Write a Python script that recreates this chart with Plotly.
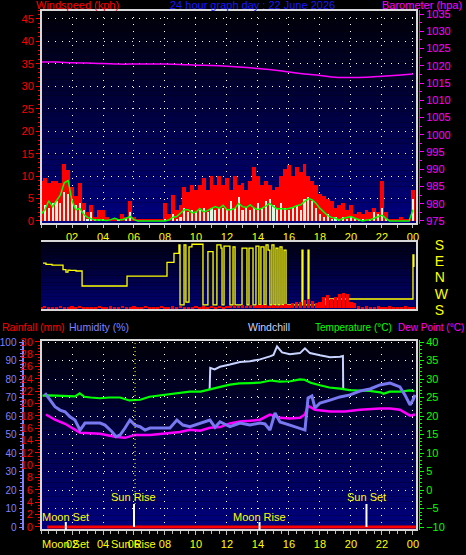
import plotly.graph_objects as go

W, H = 466, 555

# ---------------- data ----------------
quarter_hours = [i / 4 for i in range(97)]

wind_gust = [9, 9.5, 8.5, 9, 9, 8.5, 12.8, 11.4, 7.6, 5.5, 8.4, 4, 2, 3.5, 1, 2.5, 2.5, 1, 0.5, 0.3,
             0.3, 1.5, 1, 4.5, 1, 0.3, 0.3, 0.3, 0.3, 0.3, 0.3, 0.3, 3.9, 1.5, 5.8, 2.5, 3.5, 7.6, 6.5, 8,
             7, 8, 9.5, 7, 10, 8, 10, 8, 9.5, 7, 10, 8, 8.5, 7, 9, 12, 10, 8, 9, 8,
             7, 7.5, 10, 11.5, 12.5, 10, 12, 11, 12.8, 10, 9, 8, 6, 5.5, 5, 4.5, 3, 3.5, 4, 2.5,
             3.5, 1.5, 2, 1.5, 2.5, 2, 3, 2, 9, 2, 0.3, 0.3, 0.3, 1, 0.3, 0.3, 7]

wind_speed = [2.5, 3.5, 3, 4, 4.5, 4, 6.5, 6, 5, 3.5, 4, 2.5, 0.5, 2, 0.3, 0.5, 0.5, 0, 0, 0,
              0.3, 0, 0.5, 2, 0, 0, 0, 0, 0, 0, 0, 0, 0.5, 0, 1.5, 0.5, 1, 3, 2, 2.5,
              2, 2.5, 3, 2, 3, 2.5, 3, 3, 2.5, 4.5, 3, 5.3, 2.5, 3, 2.5, 3, 4, 3, 4.5, 5,
              3.5, 3, 4, 3, 2.5, 3, 3.5, 2.5, 5, 5.3, 4.5, 3, 1.5, 1, 1.5, 0.5, 1, 0.3, 1, 0.5,
              1, 0.3, 0.5, 0.3, 0, 0.3, 2, 1.5, 3, 0.5, 0, 0, 0, 0, 0, 0, 5]

wind_avg = [1.5, 2.5, 4.5, 3.2, 4.5, 5.8, 8.5, 9, 4.5, 2.5, 2.8, 1.5, 0.8, 0.5, 0.2, 0.3, 0.2, 0.1, 0.3, 0.6,
            0.3, 0.3, 0.6, 1.0, 0.3, 0, 0, 0, 0, 0, 0, 0, 0, 0.2, 0.8, 1.0, 1.8, 2.5, 2.5, 1.8,
            2.0, 2.8, 2.0, 2.3, 2.8, 3.2, 2.8, 3.5, 2.5, 2.5, 2.8, 3.9, 3.2, 3.0, 3.6, 2.9, 2.5, 2.8, 3.3, 3.9,
            3.2, 2.7, 2.8, 2.6, 2.8, 3.0, 3.4, 3.6, 4.3, 5.0, 4.7, 3.9, 2.8, 2.0, 1.2, 0.8, 0.6, 0.2, 0.6, 0.8,
            1.0, 0.6, 0.3, 0, 0.2, 0.3, 0.6, 1.0, 1.3, 0.6, 0, 0, 0, 0, 0, 0, 2.5]

baro_hours = list(range(25))
barometer = [1021.1, 1021.1, 1020.9, 1020.8, 1020.7, 1020.5, 1020.5, 1020.5, 1020.5, 1020.4,
             1020.2, 1020.1, 1019.9, 1019.6, 1019.2, 1018.8, 1018.2, 1017.6, 1017.2, 1016.7,
             1016.6, 1016.7, 1017.0, 1017.3, 1017.6]

# wind direction, unwrapped degrees: 180 = S (bottom), 270 W, 360 N, 450 E, 540 S (top)
dir_hours = [0.13, 0.32, 0.71, 1.42, 1.61, 1.74, 1.87, 2.26, 2.65, 5.55, 8.13, 8.58, 8.90, 8.97, 9.23,
             9.35, 9.55, 9.74, 10.45, 10.77, 11.10, 11.35, 11.61, 11.68, 11.81, 12.19, 12.39, 12.52,
             12.97, 13.29, 13.42, 13.68, 13.87, 14.06, 14.19, 14.39, 14.52, 14.65, 14.77, 14.90, 15.03,
             15.16, 15.29, 15.42, 15.55, 15.68, 15.81, 16.84, 16.90, 17.23, 17.29, 18.32, 24.0, 24.06]
dir_deg = [439, 433, 428, 404, 390, 401, 399, 396, 313, 367, 444, 494, 540, 208, 540,
           224, 529, 544, 208, 503, 208, 540, 523, 208, 534, 208, 529, 208,
           523, 208, 523, 208, 534, 208, 529, 208, 540, 512, 208, 540, 208,
           523, 208, 529, 208, 512, 208, 512, 208, 512, 208, 241, 485, 418]

dir_red = [0.4, 0.7, 0.4, 0.5, 0.4, 0.8, 0.4, 0.4, 0.6, 0.4, 0.7, 0.4, 0.4, 0.5, 0.4, 0.7, 0.4, 0.4, 0.6, 0.4,
           0.4, 0.7, 0.4, 0.4, 0.6, 0.4, 0.4, 0.7, 0.4, 0.5, 0.4, 0.7, 0.4, 0.4, 0.6, 0.4, 0.7, 0.4, 0.5, 0.4,
           0.7, 0.4, 0.6, 0.4, 0.7, 0.5, 0.8, 0.5, 0.7, 0.8, 1.0, 0.7, 0.9, 0.8, 1.0, 0.8, 1.0, 0.9, 1.1, 0.8,
           1.0, 0.8, 1.0, 1.2, 1.0, 1.5, 2.0, 1.8, 2.5, 3.0, 2.2, 1.5, 1.8, 3.5, 4.0, 3.0, 3.5, 4.5, 4.8, 4.5,
           2.0, 1.5, 0.6, 0.5, 0.6, 0.4, 0.5, 0.6, 0.4, 0.5, 0.6, 0.4, 0.5, 0.4, 0.6, 0.4, 0.5]

temp_hours = [0.1, 0.5, 1.0, 1.5, 2.2, 2.5, 2.8, 3.2, 3.8, 4.4, 5.1, 5.7, 6.4, 7.0, 7.5, 8.0, 8.5, 9.0,
              9.6, 10.3, 10.9, 11.5, 12.2, 12.8, 13.5, 14.1, 14.8, 15.4, 16.1, 16.7, 17.0, 17.4, 18.0,
              18.6, 19.3, 19.9, 20.6, 21.2, 21.9, 22.1, 22.5, 23.2, 23.8, 24.1]
temperature = [25.5, 25.6, 25.5, 25.4, 25.3, 26.1, 25.2, 25.0, 24.8, 25.0, 25.0, 24.2, 24.4, 25.2, 25.5,
               25.8, 26.0, 26.3, 26.6, 26.6, 27.1, 27.8, 28.5, 28.8, 28.9, 29.0, 29.6, 29.3, 29.4, 29.9,
               29.8, 29.0, 28.3, 27.7, 27.4, 27.0, 26.9, 26.8, 26.4, 26.0, 26.6, 26.6, 26.9, 26.7]

chill_hours = [10.88, 10.92, 11.2, 11.55, 12.19, 12.84, 13.48, 14.13, 14.77, 15.0, 15.23, 15.55, 16.06,
               16.71, 17.03, 17.35, 18.0, 18.65, 19.29, 19.48, 19.5]
windchill = [27.1, 33.0, 32.6, 33.3, 33.9, 34.6, 34.8, 35.3, 36.1, 36.5, 38.8, 37.2, 36.7,
             37.0, 38.3, 37.0, 36.4, 35.9, 36.0, 36.2, 27.3]

hum_hours = [0.26, 0.58, 0.9, 1.23, 1.55, 1.87, 2.19, 2.52, 2.84, 3.35, 3.81, 4.13, 4.58, 4.84, 5.1,
             5.42, 5.74, 6.06, 6.39, 6.71, 7.03, 7.68, 8.32, 8.77, 9.16, 9.61, 10.26, 10.9, 11.23, 11.55,
             12.19, 12.84, 13.48, 14.13, 14.45, 14.77, 15.1, 15.42, 16.06, 16.71, 17.03, 17.23, 17.48,
             17.68, 18.0, 18.65, 19.29, 19.94, 20.58, 21.23, 21.87, 22.52, 23.16, 23.48, 23.81, 24.0, 24.13]
humidity = [72.4, 68.6, 65, 63.2, 62.3, 59.6, 57.8, 52.4, 56.2, 56.2, 56.2, 55.1, 51.5, 48.8, 49.7,
            53.5, 57.8, 55.1, 54.2, 52.4, 53.5, 53.5, 53.5, 57.8, 55.1, 54.2, 56.2, 57.8, 53.9, 56.9,
            54.2, 56.2, 55.1, 56.2, 55.7, 52.4, 61.6, 56.8, 55.1, 53.5, 52.4, 69.7, 70.8,
            64.3, 67, 68.6, 70.3, 71.4, 73.5, 74.6, 76.8, 77.8, 75.7, 71.4, 66, 68.6, 71.4]

dew_hours = [0.32, 0.9, 1.55, 2.52, 3.81, 4.77, 5.42, 6.06, 7.03, 8.0, 8.97, 9.61, 10.26, 10.9, 11.55,
             12.19, 12.84, 13.48, 14.13, 14.77, 15.42, 16.06, 16.71, 17.03, 17.23, 17.68, 18.65, 19.61,
             20.58, 21.87, 22.52, 23.16, 23.81, 24.13]
dewpoint = [20.4, 19.0, 17.9, 15.5, 15.2, 14.4, 14.1, 14.9, 14.9, 15.2, 15.7, 16.3, 16.0, 16.8, 17.0,
            18.0, 18.5, 18.7, 19.0, 20.4, 19.5, 19.3, 19.5, 20.4, 22.8, 21.7, 21.2, 21.2,
            21.7, 22.0, 22.0, 21.7, 20.1, 20.4]

rain_hours = [0.4, 6, 12, 18, 24.2]
rainfall = [0, 0, 0, 0, 0]

hour_ticks = [2, 4, 6, 8, 10, 12, 14, 16, 18, 20, 22, 24]
hour_labels = ['02', '04', '06', '08', '10', '12', '14', '16', '18', '20', '22', '00']
compass_vals = [180, 270, 360, 450, 540]
compass_labels = ['S', 'W', 'N', 'E', 'S']

event_hours = [1.6, 6.0, 14.1, 21.0]
event_names = ['Moon Set', 'Sun Rise', 'Moon Rise', 'Sun Set']

# ---------------- layout helpers ----------------
FONT = "Liberation Sans"
XR = [0, 24.26]
XD = [41 / W, 417 / W]


def py(p):
    return 1 - p / H


def dom(top, bottom):
    return [py(bottom), py(top)]


DOT = "1px,6px"

fig = go.Figure()

# wind panel
fig.add_trace(go.Bar(x=quarter_hours, y=wind_gust, width=0.25, marker=dict(color="#ff0000", line=dict(width=0)),
                     xaxis="x", yaxis="y"))
fig.add_trace(go.Bar(x=quarter_hours, y=wind_speed, width=0.14, marker=dict(color="#e2f4e2", line=dict(width=0)),
                     xaxis="x", yaxis="y"))
fig.add_trace(go.Scatter(x=quarter_hours, y=wind_avg, mode="lines", line=dict(color="#00ff00", width=1.5),
                         xaxis="x", yaxis="y"))
fig.add_trace(go.Scatter(x=baro_hours, y=barometer, mode="lines", line=dict(color="#ff00ff", width=1.5, shape="spline"),
                         xaxis="x", yaxis="y2"))

# direction panel
fig.add_trace(go.Bar(x=quarter_hours, y=dir_red, width=0.2, marker=dict(color="#ff0000", line=dict(width=0)),
                     xaxis="x2", yaxis="y4"))
fig.add_trace(go.Scatter(x=dir_hours, y=dir_deg, mode="lines", line=dict(color="#ffff00", width=1.3, shape="hv"),
                         xaxis="x2", yaxis="y3"))

# temperature panel
fig.add_trace(go.Scatter(x=hum_hours, y=humidity, mode="lines", line=dict(color="#7878f0", width=3),
                         xaxis="x3", yaxis="y6"))
fig.add_trace(go.Scatter(x=chill_hours, y=windchill, mode="lines", line=dict(color="#c8d4ff", width=2),
                         xaxis="x3", yaxis="y5"))
fig.add_trace(go.Scatter(x=temp_hours, y=temperature, mode="lines", line=dict(color="#00ff00", width=2.2),
                         xaxis="x3", yaxis="y5"))
fig.add_trace(go.Scatter(x=dew_hours, y=dewpoint, mode="lines", line=dict(color="#ff00ff", width=2.5),
                         xaxis="x3", yaxis="y5"))
fig.add_trace(go.Scatter(x=rain_hours, y=rainfall, mode="lines", line=dict(color="#ff0000", width=3),
                         xaxis="x3", yaxis="y7"))

tickfont_y = dict(family=FONT, size=11, color="#ffff00")
xcommon = dict(domain=XD, range=XR, zeroline=False, showline=False, fixedrange=True, automargin=False)

shapes = []


def gradient(xref, yref, n=40, c_top=8, c_bot=128):
    for k in range(n):
        f = (k + 0.5) / n
        c = int(round(c_bot + (c_top - c_bot) * f))
        shapes.append(dict(type="rect", xref=xref + " domain", yref=yref + " domain", x0=0, x1=1,
                           y0=k / n, y1=(k + 1) / n, fillcolor=f"rgb(0,0,{c})", line=dict(width=0),
                           layer="below"))


gradient("x", "y", c_top=6, c_bot=128)
gradient("x2", "y3", n=20, c_top=16, c_bot=118)
gradient("x3", "y5", c_top=6, c_bot=128)

frame = dict(color="#d8d8d8", width=2)
for xr, yr in [("x", "y"), ("x3", "y5")]:
    shapes.append(dict(type="rect", xref=xr + " domain", yref=yr + " domain", x0=0, x1=1, y0=0, y1=1,
                       line=frame, layer="above"))
# direction panel frame (top, right, bottom)
shapes.append(dict(type="path", xref="x2 domain", yref="y3 domain", path="M 0 1 L 1 1 L 1 0 L 0 0",
                   line=frame, layer="above"))

# sun / moon markers
for h, name in zip(event_hours, event_names):
    if "Moon" in name:
        shapes.append(dict(type="line", xref="x3", yref="paper", x0=h, x1=h, y0=py(530), y1=py(522),
                           line=dict(color="white", width=2)))
    else:
        shapes.append(dict(type="line", xref="x3", yref="paper", x0=h, x1=h, y0=py(527), y1=py(504),
                           line=dict(color="white", width=2)))
shapes.append(dict(type="line", xref="x3", yref="paper", x0=event_hours[1] + 0.07, x1=event_hours[1] + 0.07,
                   y0=py(504), y1=py(341), line=dict(color="#ffff00", width=1, dash="1px,3px")))

annotations = []


def txt(s, x, y, color, size=11, xref="paper", xanchor="center"):
    annotations.append(dict(text=s, x=x, y=py(y), xref=xref, yref="paper", showarrow=False,
                            xanchor=xanchor, yanchor="middle", font=dict(family=FONT, size=size, color=color)))


txt("Windspeed (kph)", 34 / W, 5, "#ff0000", 11, xanchor="left")
txt("24 hour graph day : 22 June 2026", 252 / W, 5, "#1818ff", 11)
txt("Barometer (hpa)", 464 / W, 5, "#ff00ff", 11, xanchor="right")
txt("Rainfall (mm)", 0, 327, "#ff0000", 10.5, xanchor="left")
txt("Humidity (%)", 67 / W, 327, "#8080ff", 10.5, xanchor="left")
txt("Windchill", 246 / W, 327, "#c8d4ff", 10.5, xanchor="left")
txt("Temperature (°C)", 313 / W, 327, "#00ff00", 10, xanchor="left")
txt("Dew Point (°C)", 466 / W, 327, "#ff00ff", 10, xanchor="right")
for h, name in zip(event_hours, event_names):
    yy = 517 if "Moon" in name else 497
    txt(name, h, yy, "#ffff00", 11, xref="x3")
for h, name in zip(event_hours[:2], event_names[:2]):
    txt(name, h, 544, "#ffff00", 11, xref="x3")

fig.update_layout(
    template="none",
    width=W, height=H, margin=dict(l=0, r=0, t=0, b=0, autoexpand=False),
    paper_bgcolor="black", plot_bgcolor="black",
    showlegend=False, barmode="overlay", bargap=0,
    shapes=shapes, annotations=annotations,
    xaxis=dict(**xcommon, anchor="y", tickmode="array", tickvals=hour_ticks, ticktext=hour_labels,
               tickfont=tickfont_y, ticks="outside", ticklen=3, tickcolor="#c0c0c0",
               minor=dict(ticks="outside", ticklen=3, dtick=1, tick0=0, tickcolor="#c0c0c0"),
               showgrid=True, gridcolor="white", griddash=DOT, gridwidth=1),
    yaxis=dict(domain=dom(10, 224), range=[-0.67, 47.0], anchor="x", dtick=5, tick0=0, automargin=False,
               tickfont=dict(family=FONT, size=11, color="#ff0000"), ticks="outside", ticklen=4,
               tickcolor="#ff0000", minor=dict(ticks="outside", ticklen=2, dtick=1, tickcolor="#ff0000"),
               showgrid=True, gridcolor="white", griddash=DOT, zeroline=False, fixedrange=True),
    yaxis2=dict(overlaying="y", side="right", anchor="free", position=419 / W, range=[974.1, 1036.2],
                dtick=5, tick0=975, showline=True, linecolor="#ff00ff", linewidth=1, automargin=False,
                tickfont=dict(family=FONT, size=11, color="#ff00ff"), ticks="outside", ticklen=4,
                tickcolor="#ff00ff", minor=dict(ticks="outside", ticklen=2, dtick=2.5, tickcolor="#ff00ff"),
                showgrid=False, zeroline=False, fixedrange=True),
    xaxis2=dict(**xcommon, anchor="y3", showticklabels=False, ticks="", showgrid=False),
    yaxis3=dict(domain=dom(241, 310), range=[180, 562], anchor="x2", side="right", tickmode="array",
                tickvals=compass_vals, ticktext=compass_labels, automargin=False,
                tickfont=dict(family=FONT, size=14, color="#ffff00"), ticks="outside", ticklen=14,
                tickcolor="rgba(0,0,0,0)", showgrid=False, zeroline=False, fixedrange=True),
    yaxis4=dict(overlaying="y3", range=[-0.5, 20.5], visible=False, fixedrange=True, automargin=False),
    xaxis3=dict(**xcommon, anchor="y5", tickmode="array", tickvals=hour_ticks, ticktext=hour_labels,
                tickfont=tickfont_y, ticks="outside", ticklen=4, tickcolor="#c0c0c0",
                minor=dict(ticks="outside", ticklen=3, dtick=0.5, tick0=0, tickcolor="#c0c0c0"),
                showgrid=True, gridcolor="white", griddash=DOT, gridwidth=1),
    yaxis5=dict(domain=dom(340, 530), range=[-10.8, 40.54], side="right", anchor="free", position=419 / W,
                dtick=5, tick0=0, showline=True, linecolor="#00ff00", linewidth=1, automargin=False,
                tickfont=dict(family=FONT, size=11, color="#00ff00"), ticks="outside", ticklen=4,
                tickcolor="#00ff00", minor=dict(ticks="outside", ticklen=2, dtick=1, tickcolor="#00ff00"),
                showgrid=True, gridcolor="white", griddash=DOT, zeroline=False, fixedrange=True),
    yaxis6=dict(overlaying="y5", side="left", anchor="free", position=22.5 / W, range=[-1.62, 101.08],
                dtick=10, tick0=0, showline=True, linecolor="#8080ff", linewidth=2, automargin=False,
                tickfont=dict(family=FONT, size=10, color="#8080ff"), ticks="outside", ticklen=3,
                tickcolor="#8080ff", minor=dict(ticks="outside", ticklen=2, dtick=2, tickcolor="#8080ff"),
                showgrid=False, zeroline=False, fixedrange=True),
    yaxis7=dict(overlaying="y5", side="left", anchor="x3", range=[-0.49, 30.32], dtick=2, tick0=0,
                automargin=False,
                tickfont=dict(family=FONT, size=11, color="#ff0000"), ticks="outside", ticklen=5,
                tickcolor="#ff0000", minor=dict(ticks="outside", ticklen=2, dtick=0.5, tickcolor="#ff0000"),
                showgrid=False, zeroline=False, fixedrange=True),
)

fig.write_html("out.html", config={"displayModeBar": False},
               post_script="document.body.style.margin='0';document.body.style.padding='0';"
                           "document.body.style.background='black';")
